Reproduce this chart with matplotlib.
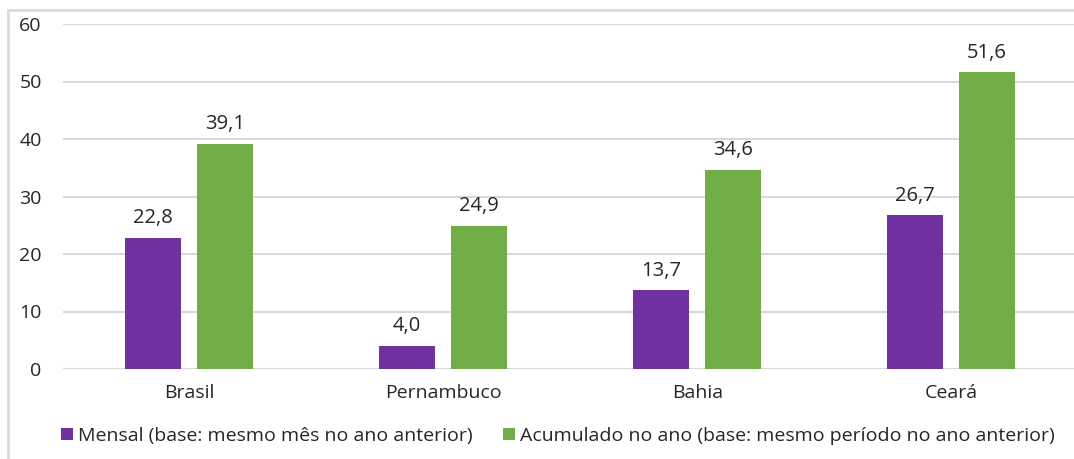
import numpy as np
import matplotlib.pyplot as plt
from matplotlib.patches import Rectangle

# Data
categorias = ['Brasil', 'Pernambuco', 'Bahia', 'Ceará']
mensal = [22.8, 4.0, 13.7, 26.7]
acumulado = [39.1, 24.9, 34.6, 51.6]
rotulos = ['Mensal (base: mesmo mês no ano anterior)',
           'Acumulado no ano (base: mesmo período no ano anterior)']

roxo = '#7030A0'
verde = '#70AD47'
plt.rcParams['font.family'] = ['Open Sans', 'DejaVu Sans']
fs = 14

W, H = 1074, 459
fig = plt.figure(figsize=(W / 100, H / 100), dpi=100)
ax = fig.add_axes([62.5 / W, (H - 369) / H, 1 - 62.5 / W, 345 / H])

# light border around the chart area
fig.patches.append(Rectangle((8 / W, -0.1), 1.2, (H - 10) / H + 0.1,
                             transform=fig.transFigure, fill=False,
                             edgecolor='#D9D9D9', linewidth=2))

x = np.arange(len(categorias))
largura = 0.22
b1 = ax.bar(x - 0.143, mensal, largura, color=roxo, label=rotulos[0])
b2 = ax.bar(x + 0.14, acumulado, largura, color=verde, label=rotulos[1])

for barras, vals in ((b1, mensal), (b2, acumulado)):
    for b, v in zip(barras, vals):
        ax.annotate(f'{v:.1f}'.replace('.', ','),
                    (b.get_x() + b.get_width() / 2, v),
                    xytext=(0, 7), textcoords='offset points',
                    ha='center', va='bottom', fontsize=fs + 0.5,
                    color='#262626')

ax.set_xlim(-0.5, 3.5 - 4.5 / 254)
ax.set_ylim(0, 60)
ax.set_yticks(range(0, 61, 10))
ax.set_xticks(x)
ax.set_xticklabels(categorias)
ax.grid(axis='y', color='#D9D9D9', linewidth=1.5)
ax.set_axisbelow(True)
for s in ['top', 'right', 'left', 'bottom']:
    ax.spines[s].set_visible(False)
ax.tick_params(axis='both', length=0, labelsize=fs, colors='#262626')
ax.tick_params(axis='y', pad=15)
ax.tick_params(axis='x', pad=11)

ax.legend(loc='center', bbox_to_anchor=(558 / W, (H - 436) / H),
          bbox_transform=fig.transFigure, ncol=2, frameon=False,
          fontsize=fs, handlelength=0.6, handleheight=0.6,
          handletextpad=0.25, columnspacing=1.6, labelcolor='#262626')

fig.savefig('out.png', dpi=100)
